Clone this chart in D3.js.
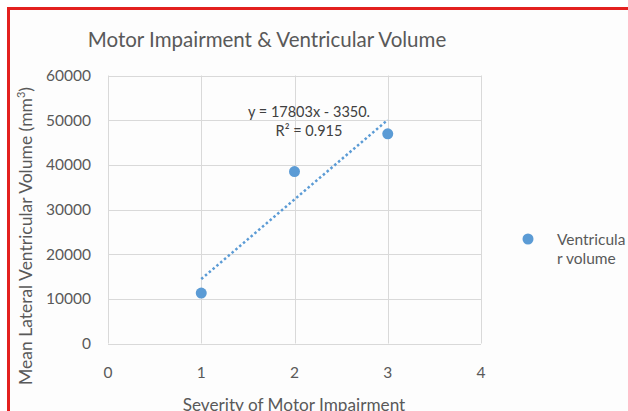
<!DOCTYPE html>
<html>
<head>
<meta charset="utf-8">
<script src="https://cdn.jsdelivr.net/npm/d3@7"></script>
<style>
  body { margin: 0; background: #fff; }
  svg text { font-family: Lato, "Open Sans", sans-serif; fill: #595959; }
</style>
</head>
<body>
<div id="chart"></div>
<script>
const severity = [1, 2, 3];
const volume = [11300, 38500, 46950];
const xTicks = [0, 1, 2, 3, 4];
const yTicks = [0, 10000, 20000, 30000, 40000, 50000, 60000];
const trendLabel = ['y = 17803x - 3350.', 'R\u00b2 = 0.915'];
const seriesName = ['Ventricula', 'r volume'];

const W = 628, H = 411;
const blue = '#5b9bd5';

const svg = d3.select('#chart').append('svg')
  .attr('width', W).attr('height', H);

svg.append('rect')
  .attr('x', 8.5).attr('y', 8.5)
  .attr('width', W + 10).attr('height', H + 10)
  .attr('fill', '#fdfdfd')
  .attr('stroke', '#e3201f')
  .attr('stroke-width', 3);

const x = d3.scaleLinear().domain([0, 4]).range([108, 481]);
const y = d3.scaleLinear().domain([0, 60000]).range([343.5, 75.5]);

// gridlines
svg.append('g')
  .selectAll('line.h')
  .data(yTicks)
  .join('line')
  .attr('x1', x(0)).attr('x2', x(4))
  .attr('y1', d => Math.round(y(d)) + 0.5).attr('y2', d => Math.round(y(d)) + 0.5)
  .attr('stroke', '#d9d9d9');

svg.append('g')
  .selectAll('line.v')
  .data(xTicks)
  .join('line')
  .attr('y1', y(0)).attr('y2', y(60000))
  .attr('x1', d => Math.round(x(d)) + 0.5).attr('x2', d => Math.round(x(d)) + 0.5)
  .attr('stroke', '#d9d9d9');

// tick labels
svg.append('g')
  .selectAll('text')
  .data(yTicks)
  .join('text')
  .attr('x', 91)
  .attr('y', d => y(d) + 5.5)
  .attr('text-anchor', 'end')
  .attr('font-size', 15.5)
  .text(d => d);

svg.append('g')
  .selectAll('text')
  .data(xTicks)
  .join('text')
  .attr('x', d => x(d))
  .attr('y', 378)
  .attr('text-anchor', 'middle')
  .attr('font-size', 15.5)
  .text(d => d);

// trendline from least squares
const mx = d3.mean(severity), my = d3.mean(volume);
const slope = d3.sum(severity, (s, i) => (s - mx) * (volume[i] - my)) /
  d3.sum(severity, s => (s - mx) ** 2);
const icpt = my - slope * mx;
const ext = d3.extent(severity);

svg.append('line')
  .attr('x1', x(ext[0])).attr('y1', y(slope * ext[0] + icpt))
  .attr('x2', x(ext[1])).attr('y2', y(slope * ext[1] + icpt))
  .attr('stroke', blue)
  .attr('stroke-width', 2.5)
  .attr('stroke-dasharray', '2.5 2.5');

svg.append('g')
  .selectAll('circle')
  .data(severity)
  .join('circle')
  .attr('cx', d => x(d))
  .attr('cy', (d, i) => y(volume[i]))
  .attr('r', 5.5)
  .attr('fill', blue);

// equation
svg.append('g')
  .selectAll('text')
  .data(trendLabel)
  .join('text')
  .attr('x', 309)
  .attr('y', (d, i) => 117 + i * 19)
  .attr('text-anchor', 'middle')
  .attr('font-size', 14.5)
  .style('fill', '#404040')
  .text(d => d);

// title
svg.append('text')
  .attr('x', 267).attr('y', 47)
  .attr('text-anchor', 'middle')
  .attr('font-size', 20.5)
  .text('Motor Impairment & Ventricular Volume');

// axis titles
svg.append('text')
  .attr('x', 294).attr('y', 411)
  .attr('text-anchor', 'middle')
  .attr('font-size', 17.2)
  .text('Severity of Motor Impairment');

const yt = svg.append('text')
  .attr('transform', 'translate(32,236) rotate(-90)')
  .attr('text-anchor', 'middle')
  .attr('font-size', 17.5);
yt.append('tspan').text('Mean Lateral Ventricular Volume (mm');
yt.append('tspan').attr('font-size', 11).attr('dy', -7).text('3');
yt.append('tspan').attr('dy', 7).text(')');

// legend
svg.append('circle')
  .attr('cx', 528).attr('cy', 239).attr('r', 5.5).attr('fill', blue);
svg.append('g')
  .selectAll('text')
  .data(seriesName)
  .join('text')
  .attr('x', 557)
  .attr('y', (d, i) => 245 + i * 19)
  .attr('font-size', 15.5)
  .text(d => d);
</script>
</body>
</html>
